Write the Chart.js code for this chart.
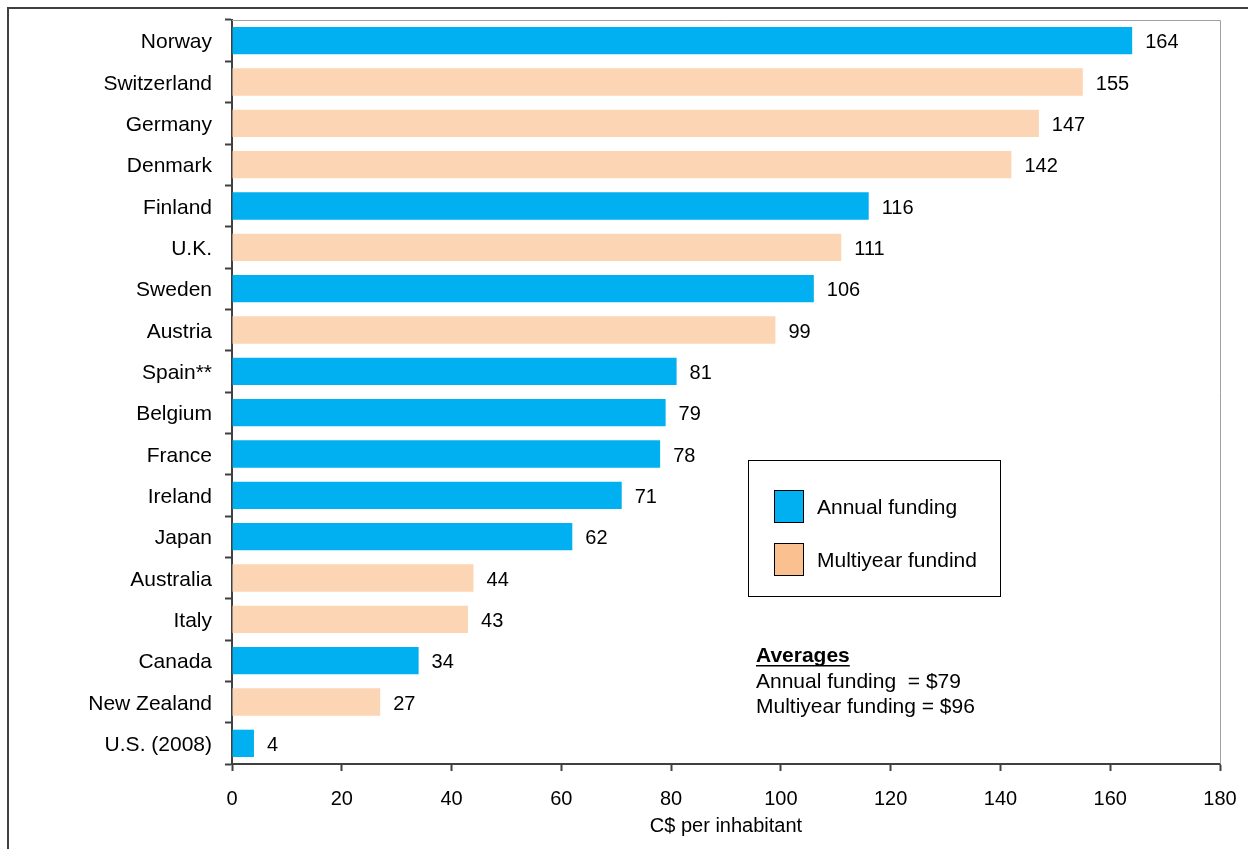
<!DOCTYPE html>
<html>
<head>
<meta charset="utf-8">
<title>Funding per inhabitant</title>
<script src="https://cdn.jsdelivr.net/npm/chart.js@4"></script>
<style>
  html, body { margin: 0; padding: 0; background: #fff; }
  #wrap { width: 1248px; height: 849px; position: relative; }
</style>
</head>
<body>
<div id="wrap"><canvas id="chart"></canvas></div>
<script>
// countries, top to bottom
const countries = ['Norway', 'Switzerland', 'Germany', 'Denmark', 'Finland', 'U.K.', 'Sweden', 'Austria',
  'Spain**', 'Belgium', 'France', 'Ireland', 'Japan', 'Australia', 'Italy', 'Canada', 'New Zealand', 'U.S. (2008)'];
// C$ per inhabitant
const perInhabitant = [164, 155, 147, 142, 116, 111, 106, 99, 81, 79, 78, 71, 62, 44, 43, 34, 27, 4];
// funding model: 'A' = annual, 'M' = multiyear
const fundingType = ['A', 'M', 'M', 'M', 'A', 'M', 'A', 'M', 'A', 'A', 'A', 'A', 'A', 'M', 'M', 'A', 'M', 'A'];
const legendNames = ['Annual funding', 'Multiyear fundind'];
const averageLines = ['Annual funding  = $79', 'Multiyear funding = $96'];
const xTicks = [0, 20, 40, 60, 80, 100, 120, 140, 160, 180];

const BLUE = '#00b0f0';
const PEACH = '#fcd5b5';
const PEACH_KEY = '#fac090';
const FONT = '"Liberation Sans", Arial, sans-serif';

// value labels, frame, legend box and the averages note
const extras = {
  id: 'extras',
  afterDatasetsDraw(chart) {
    const ctx = chart.ctx;
    const meta = chart.getDatasetMeta(0);
    ctx.save();
    ctx.font = '20px ' + FONT;
    ctx.fillStyle = '#000';
    ctx.textBaseline = 'middle';
    ctx.textAlign = 'left';
    meta.data.forEach((bar, i) => {
      ctx.fillText(String(perInhabitant[i]), bar.x + 13, bar.y + 2);
    });
    ctx.restore();
  },
  afterDraw(chart) {
    const ctx = chart.ctx;
    const a = chart.chartArea;
    ctx.save();
    // outer frame
    ctx.strokeStyle = '#404040';
    ctx.lineWidth = 2;
    ctx.beginPath();
    ctx.moveTo(8, 860);
    ctx.lineTo(8, 8);
    ctx.lineTo(1260, 8);
    ctx.stroke();
    // plot area top / right edge
    ctx.strokeStyle = '#a0a0a0';
    ctx.lineWidth = 1;
    ctx.beginPath();
    ctx.moveTo(a.left, a.top + 0.5);
    ctx.lineTo(a.right + 0.5, a.top + 0.5);
    ctx.lineTo(a.right + 0.5, a.bottom);
    ctx.stroke();

    // legend box
    ctx.strokeStyle = '#000';
    ctx.strokeRect(748.5, 460.5, 252, 136);
    const keys = [BLUE, PEACH_KEY];
    ctx.font = '21px ' + FONT;
    ctx.textBaseline = 'middle';
    legendNames.forEach((name, i) => {
      const y = 490 + i * 53;
      ctx.fillStyle = keys[i];
      ctx.fillRect(774, y, 29, 32);
      ctx.strokeRect(774.5, y + 0.5, 29, 32);
      ctx.fillStyle = '#000';
      ctx.fillText(name, 817, y + 18);
    });

    // averages
    ctx.font = 'bold 21px ' + FONT;
    ctx.fillText('Averages', 756, 656);
    const w = ctx.measureText('Averages').width;
    ctx.fillRect(756, 665, w, 1.5);
    ctx.font = '21px ' + FONT;
    averageLines.forEach((t, i) => ctx.fillText(t, 756, 682 + i * 25));
    ctx.restore();
  }
};

new Chart(document.getElementById('chart'), {
  type: 'bar',
  data: {
    labels: countries,
    datasets: [{
      data: perInhabitant,
      backgroundColor: fundingType.map(t => t === 'A' ? BLUE : PEACH),
      borderWidth: 0,
      categoryPercentage: 1,
      barPercentage: 0.66
    }]
  },
  options: {
    indexAxis: 'y',
    responsive: true,
    maintainAspectRatio: false,
    animation: false,
    layout: { padding: { top: 20, right: 28, left: 0, bottom: 0 } },
    plugins: {
      legend: { display: false },
      tooltip: { enabled: false }
    },
    scales: {
      x: {
        min: 0,
        max: 180,
        afterBuildTicks: s => { s.ticks = xTicks.map(v => ({ value: v })); },
        afterFit: s => { s.height = 85; s.paddingLeft = 0; s.paddingRight = 0; },
        border: { color: '#404040', width: 2 },
        grid: { drawOnChartArea: false, drawTicks: true, tickLength: 7, color: '#404040', tickWidth: 2 },
        ticks: { color: '#000', font: { family: FONT, size: 20 }, padding: 16 },
        title: {
          display: true,
          text: 'C$ per inhabitant',
          color: '#000',
          font: { family: FONT, size: 20 },
          padding: { top: 0, bottom: 11 }
        }
      },
      y: {
        afterFit: s => { s.width = 232; s.paddingTop = 0; s.paddingBottom = 0; },
        border: { color: '#404040', width: 2 },
        grid: { drawOnChartArea: false, drawTicks: true, tickLength: 7, offset: true, color: '#404040', tickWidth: 2 },
        ticks: { color: '#000', font: { family: FONT, size: 21 }, padding: 13, labelOffset: 2 }
      }
    }
  },
  plugins: [extras]
});
</script>
</body>
</html>
